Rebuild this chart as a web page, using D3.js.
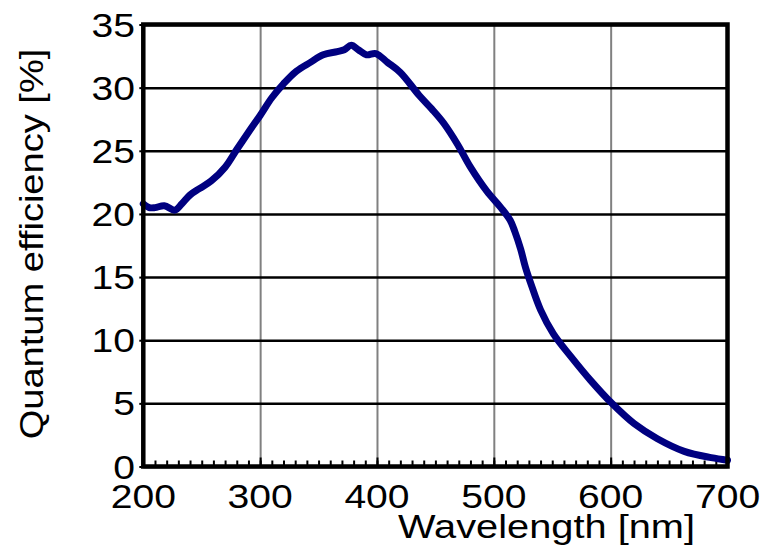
<!DOCTYPE html>
<html><head><meta charset="utf-8">
<script src="https://cdn.jsdelivr.net/npm/d3@7/dist/d3.min.js"></script>
<style>
body{margin:0;background:#fff;}
svg{display:block;}
text{font-family:"Liberation Sans",Arial,sans-serif;fill:#000;}
</style></head>
<body>
<svg id="chart" width="764" height="546"></svg>
<script>
const wavelength = [200,205,210,218,227,233,240,248,258,270,280,291,300,310,320,331,343,354,366,372,378,384,391,399,409,420,436,447,457,469,480,494,506,514,518,523,527,532,540,551,566,583,601,620,640,663,686,700];
const efficiency = [20.8,20.5,20.5,20.65,20.3,20.8,21.5,22.0,22.6,23.7,25.1,26.6,27.8,29.2,30.3,31.3,32.0,32.6,32.85,33.0,33.35,33.0,32.6,32.7,32.0,31.2,29.4,28.3,27.2,25.5,23.7,21.8,20.5,19.5,18.6,17.2,15.8,14.4,12.4,10.5,8.7,6.8,5.0,3.4,2.2,1.2,0.7,0.5];
const xTicks = [200,300,400,500,600,700];
const yTicks = [0,5,10,15,20,25,30,35];
const xTitle = "Wavelength [nm]";
const yTitle = "Quantum efficiency [%]";

const svg = d3.select("#chart");
const L = 143.3, R = 727.5, T = 24.5, B = 466.5;
const W = R - L, H = B - T;
const SX = 1.15, FS = 34;

const x = d3.scaleLinear().domain([200,700]).range([L,R]);
const y = d3.scaleLinear().domain([0,35]).range([B,T]);

// vertical grid
svg.append("g").attr("transform",`translate(0,${B})`)
  .call(d3.axisBottom(x).tickValues(xTicks).tickSize(-H).tickFormat(""))
  .call(g=>g.select(".domain").remove())
  .call(g=>g.selectAll("line").attr("stroke","#808080").attr("stroke-width",2));

// horizontal grid
svg.append("g").attr("transform",`translate(${L},0)`)
  .call(d3.axisLeft(y).tickValues(yTicks).tickSize(-W).tickFormat(""))
  .call(g=>g.select(".domain").remove())
  .call(g=>g.selectAll("line").attr("stroke","#000").attr("stroke-width",2.5));

// minor ticks on bottom
svg.append("g").attr("transform",`translate(0,${B})`)
  .call(d3.axisBottom(x).tickValues(d3.range(200,701,10)).tickSize(-6).tickFormat(""))
  .call(g=>g.select(".domain").remove())
  .call(g=>g.selectAll("line").attr("stroke","#000").attr("stroke-width",2));
svg.append("g").attr("transform",`translate(0,${B})`)
  .call(d3.axisBottom(x).tickValues(xTicks).tickSize(-9).tickFormat(""))
  .call(g=>g.select(".domain").remove())
  .call(g=>g.selectAll("line").attr("stroke","#000").attr("stroke-width",2));

// y outward ticks
svg.append("g").attr("transform",`translate(${L},0)`)
  .call(d3.axisLeft(y).tickValues(yTicks).tickSize(4).tickFormat(""))
  .call(g=>g.select(".domain").remove())
  .call(g=>g.selectAll("line").attr("stroke","#000").attr("stroke-width",2));

// curve
const line = d3.line().x((d,i)=>x(wavelength[i])).y(d=>y(d)).curve(d3.curveCatmullRom.alpha(0.5));
svg.append("path").datum(efficiency).attr("d",line)
  .attr("fill","none").attr("stroke","#000080").attr("stroke-width",7)
  .attr("stroke-linejoin","round").attr("stroke-linecap","round");

// frame
svg.append("rect").attr("x",L).attr("y",T).attr("width",W).attr("height",H)
  .attr("fill","none").attr("stroke","#000").attr("stroke-width",4.5);

// y tick labels
svg.append("g").selectAll("text").data(yTicks).join("text")
  .attr("transform",d=>`translate(135,${y(d)+12}) scale(${SX},1)`)
  .attr("text-anchor","end").attr("font-size",FS).text(d=>d);

// x tick labels
svg.append("g").selectAll("text").data(xTicks).join("text")
  .attr("transform",d=>`translate(${x(d)},508) scale(${SX},1)`)
  .attr("text-anchor","middle").attr("font-size",FS).text(d=>d);

// titles
svg.append("text").attr("transform",`translate(695,538) scale(1.17,1)`)
  .attr("text-anchor","end").attr("font-size",FS).text(xTitle);
svg.append("text").attr("transform",`translate(43,244) rotate(-90) scale(1.12,1)`)
  .attr("text-anchor","middle").attr("font-size",FS).text(yTitle);
</script>
</body></html>
